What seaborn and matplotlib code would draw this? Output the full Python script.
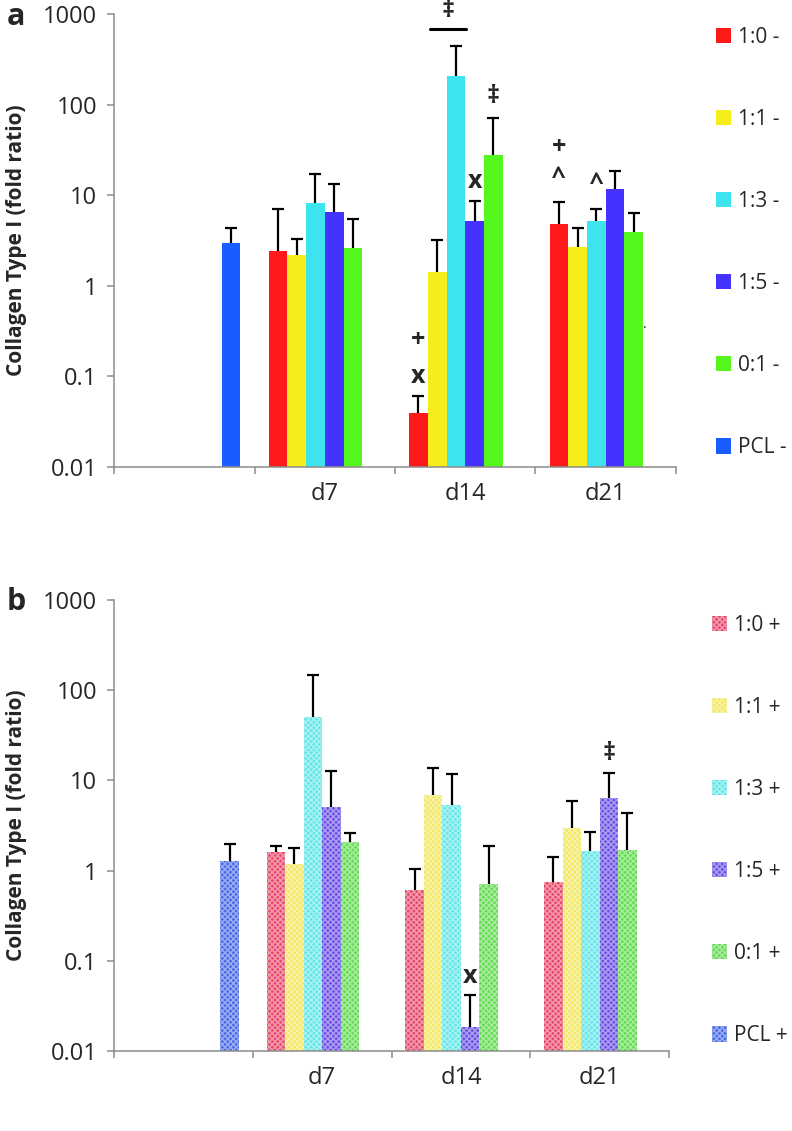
import numpy as np
import pandas as pd
import seaborn as sns
import matplotlib.pyplot as plt

nan = np.nan
days = ["", "d7", "d14", "d21"]
groups = ["1:0", "1:1", "1:3", "1:5", "0:1", "PCL"]

# panel a (-): bar heights, one list per group over days
a_10 = [nan, 2.42, 0.039, 4.77]
a_11 = [nan, 2.17, 1.43, 2.70]
a_13 = [nan, 8.3, 205, 5.15]
a_15 = [nan, 6.5, 5.23, 11.6]
a_01 = [nan, 2.59, 27.8, 3.89]
a_pcl = [3.0, nan, nan, nan]
# panel a error bar tops
a_10_top = [nan, 7.0, 0.061, 8.35]
a_11_top = [nan, 3.28, 3.2, 4.38]
a_13_top = [nan, 17, 443, 7.04]
a_15_top = [nan, 13.3, 8.7, 18.6]
a_01_top = [nan, 5.42, 71.7, 6.3]
a_pcl_top = [4.4, nan, nan, nan]

# panel b (+)
b_10 = [nan, 1.59, 0.61, 0.75]
b_11 = [nan, 1.18, 6.94, 2.96]
b_13 = [nan, 50, 5.3, 1.65]
b_15 = [nan, 5.1, 0.0183, 6.43]
b_01 = [nan, 2.06, 0.71, 1.68]
b_pcl = [1.27, nan, nan, nan]
b_10_top = [nan, 1.87, 1.05, 1.4]
b_11_top = [nan, 1.79, 13.7, 5.9]
b_13_top = [nan, 149, 11.9, 2.65]
b_15_top = [nan, 12.8, 0.0415, 12.0]
b_01_top = [nan, 2.61, 1.87, 4.31]
b_pcl_top = [1.97, nan, nan, nan]

colors_a = ["#FF1A1A", "#F5EE1A", "#3DE4EE", "#4433FF", "#55F51E", "#1A5CFF"]
colors_b = ["#E8486A", "#F2E860", "#62E6E8", "#6A50E6", "#62DC50", "#4A6AE6"]

# significance marks: (x, y, text)
marks_a = [(1.875, 1080, "‡"), (2.2, 122, "‡"), (2.067, 14, "x"),
           (1.667, 0.252, "+"), (1.667, 0.0985, "x"),
           (2.667, 34, "+"), (2.667, 15.5, "^"), (2.933, 13.6, "^")]
marks_b = [(2.067, 0.0674, "x"), (3.067, 20.1, "‡")]

sns.set_style("white")
plt.rcParams['font.family'] = ['Open Sans', 'DejaVu Sans']

fig = plt.figure(figsize=(7.92, 11.31), dpi=100)
ax_a = fig.add_axes([0.144, 0.5871, 0.7095, 0.4005])
ax_b = fig.add_axes([0.144, 0.0707, 0.7008, 0.3988])


def draw_panel(ax, means, tops, sign, colors, hatched):
    labels = [f"{g} {sign}" for g in groups]
    rows = []
    for lab, m, t in zip(labels, means, tops):
        for d, mv, tv in zip(days, m, t):
            if not np.isnan(mv):
                rows.append({"day": d, "group": lab, "value": mv, "top": tv})
    df = pd.DataFrame(rows)
    sns.barplot(data=df, x="day", y="value", hue="group", order=days,
                hue_order=labels, palette=dict(zip(labels, colors)),
                errorbar=None, width=0.8, saturation=1, linewidth=0, ax=ax)
    ax.set_yscale("log")
    ax.set_ylim(0.01, 1000)
    ax.set_xlim(-0.5, 3.5)

    # upper error bars
    step = 0.8 / len(groups)
    xs, hs, ts = [], [], []
    for p in ax.patches:
        h = p.get_height()
        if not np.isfinite(h) or h <= 0:
            continue
        x = p.get_x() + p.get_width() / 2
        di = int(round(x))
        gi = int(round((x - di + 0.4) / step - 0.5))
        xs.append(x)
        hs.append(h)
        ts.append(tops[gi][di])
        if hatched:
            p.set_hatch("xxxxxx")
            p.set_edgecolor((1, 1, 1, 0.45))
            p.set_linewidth(0)
    xs, hs, ts = np.array(xs), np.array(hs), np.array(ts)
    ax.errorbar(xs, hs, yerr=[np.zeros_like(hs), ts - hs], fmt="none",
                ecolor="black", elinewidth=1.6, capsize=0, zorder=3)
    ax.plot(xs, ts, ls="none", marker="_", ms=8, mew=1.6, color="black",
            zorder=3)

    # axes styling
    for s in ["top", "right"]:
        ax.spines[s].set_visible(False)
    for s in ["left", "bottom"]:
        ax.spines[s].set_color("#8c8c8c")
        ax.spines[s].set_linewidth(1.1)
    ax.set_yticks([0.01, 0.1, 1, 10, 100, 1000])
    ax.set_yticklabels(["0.01", "0.1", "1", "10", "100", "1000"])
    ax.minorticks_off()
    ax.tick_params(axis="y", which="major", left=True, length=5, width=1.1,
                   color="#8c8c8c", labelsize=17, pad=7)
    ax.set_xticks([0, 1, 2, 3])
    ax.set_xticklabels(days)
    ax.set_xticks([-0.5, 0.5, 1.5, 2.5, 3.5], minor=True)
    ax.tick_params(axis="x", which="major", length=0, labelsize=17, pad=11)
    ax.tick_params(axis="x", which="minor", bottom=True, length=5, width=1.1,
                   color="#8c8c8c")
    ax.set_xlabel("")
    ax.set_ylabel("Collagen Type I (fold ratio)", fontsize=15,
                  fontweight="bold")
    ax.yaxis.set_label_coords(-87 / (ax.get_position().width * 792), 0.5)


draw_panel(ax_a, [a_10, a_11, a_13, a_15, a_01, a_pcl],
           [a_10_top, a_11_top, a_13_top, a_15_top, a_01_top, a_pcl_top],
           "-", colors_a, False)
draw_panel(ax_b, [b_10, b_11, b_13, b_15, b_01, b_pcl],
           [b_10_top, b_11_top, b_13_top, b_15_top, b_01_top, b_pcl_top],
           "+", colors_b, True)

for ax, x0, top_y in [(ax_a, 716 / 792, 1 - 27 / 1131),
                      (ax_b, 712 / 792, 1 - 615 / 1131)]:
    sns.move_legend(ax, "upper left", bbox_to_anchor=(x0, top_y),
                    bbox_transform=fig.transFigure, frameon=False, title=None,
                    fontsize=15, handlelength=0.74, handleheight=0.74,
                    handletextpad=0.3, labelspacing=2.93, borderpad=0,
                    borderaxespad=0)

for h in ax_b.get_legend().legend_handles:
    h.set_hatch("xxxxxx")
    h.set_edgecolor((1, 1, 1, 0.45))
    h.set_linewidth(0)

for ax, marks in [(ax_a, marks_a), (ax_b, marks_b)]:
    for x, y, t in marks:
        ax.text(x, y, t, ha="center", va="center", fontsize=18,
                fontweight="bold", clip_on=False)

ax_a.plot([1.749, 2.003], [678, 678], color="black", lw=2.2, clip_on=False)
ax_a.text(3.28, 0.309, ".", ha="center", va="bottom", fontsize=10)

fig.text(0.02, 0.985, "a", fontsize=22, fontweight="bold", ha="center",
         va="center")
fig.text(0.02, 1 - 602 / 1131, "b", fontsize=22, fontweight="bold",
         ha="center", va="center")

fig.savefig("out.png", dpi=100)
